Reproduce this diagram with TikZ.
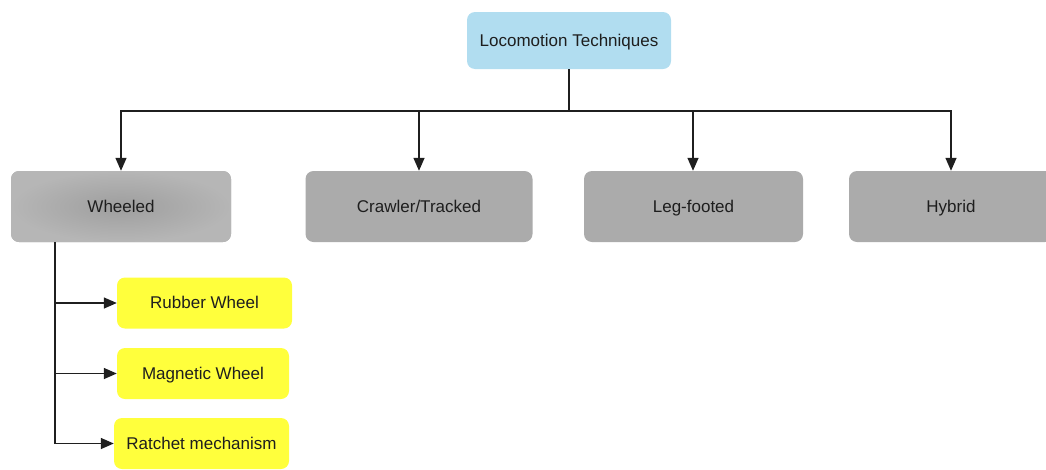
\documentclass[tikz,border=0pt]{standalone}
\usepackage{fontspec}
\setmainfont{Liberation Sans}
\usetikzlibrary{arrows.meta}
\definecolor{topblue}{RGB}{177,221,240}
\definecolor{boxgrey}{RGB}{171,171,171}
\definecolor{greyin}{RGB}{158,158,158}
\definecolor{greyout}{RGB}{182,182,182}
\definecolor{boxyellow}{RGB}{255,255,60}
\definecolor{txt}{RGB}{30,30,30}
\tikzset{
  box/.style={draw=none, rounded corners=8pt, align=center, text=txt,
    font=\fontsize{17}{20}\selectfont, inner sep=0pt, text height=12.5pt, text depth=1.5pt},
  topbox/.style={box, fill=topblue, minimum width=204pt, minimum height=57pt},
  catbox/.style={box, fill=boxgrey, minimum height=71pt},
  subbox/.style={box, fill=boxyellow, minimum height=51pt},
  conn/.style={line width=1.4pt, draw=black!88},
  arr/.style={conn, -{Triangle[length=13pt,width=11pt]}}
}
\begin{document}
\begin{tikzpicture}[x=1pt,y=-1pt]
\useasboundingbox (0,0) rectangle (1046,469);
\node[topbox] (top) at (569,40.5) {Locomotion Techniques};
\node[catbox, minimum width=220pt, shading=radial, inner color=greyin, outer color=greyout] (wheeled) at (121,206.5) {Wheeled};
\node[catbox, minimum width=227pt] (crawler) at (419,206.5) {Crawler/Tracked};
\node[catbox, minimum width=219pt] (leg) at (693.5,206.5) {Leg-footed};
\node[catbox, minimum width=204pt] (hybrid) at (951,206.5) {Hybrid};
\node[subbox, minimum width=175pt] (rubber) at (204.5,303) {Rubber Wheel};
\node[subbox, minimum width=172pt] (magnetic) at (203,373.5) {Magnetic Wheel};
\node[subbox, minimum width=175pt] (ratchet) at (201.5,443.5) {Ratchet mechanism};
\coordinate (bus) at (569,111);
\coordinate (trunk) at (55,0);
\draw[arr] (top.south) -- (top.south |- bus) -| (wheeled.north);
\draw[arr] (top.south) -- (top.south |- bus) -| (crawler.north);
\draw[arr] (top.south) -- (top.south |- bus) -| ([xshift=-0.5pt]leg.north);
\draw[arr] (top.south) -- (top.south |- bus) -| (hybrid.north);
\draw[arr] (trunk |- wheeled.south) |- (rubber.west);
\draw[arr] (trunk |- wheeled.south) |- (magnetic.west);
\draw[arr] (trunk |- wheeled.south) |- (ratchet.west);
\end{tikzpicture}
\end{document}
